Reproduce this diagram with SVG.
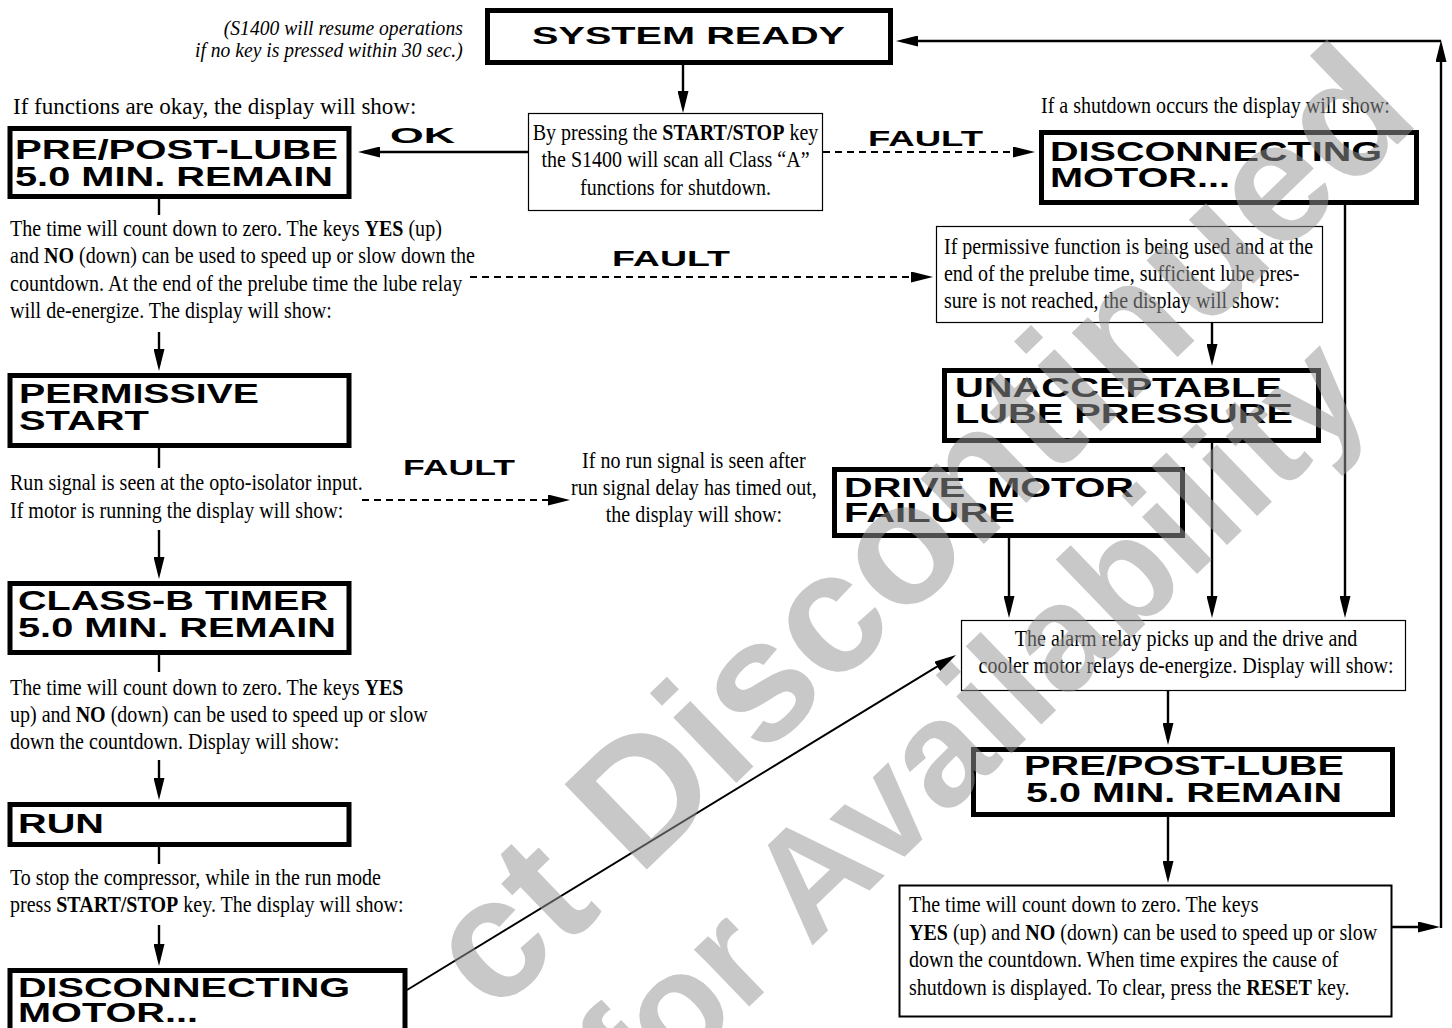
<svg xmlns="http://www.w3.org/2000/svg" width="1452" height="1028" viewBox="0 0 1452 1028">
<defs>
<style>
.thick{fill:#fff;stroke:#000;stroke-width:5}
.thin{fill:#fff;stroke:#000;stroke-width:1.2}
.d{font-family:"Liberation Sans",Arial,sans-serif;font-weight:bold;font-size:27px;fill:#000}
.b{font-family:"Liberation Serif","Times New Roman",serif;font-size:24px;fill:#000}
.i{font-family:"Liberation Serif","Times New Roman",serif;font-size:22px;font-style:italic;fill:#000}
.lbl{font-family:"Liberation Sans",Arial,sans-serif;font-weight:bold;font-size:22px;fill:#000}
.ln{fill:none;stroke:#000;stroke-width:2.4}
.dash{fill:none;stroke:#000;stroke-width:2.2;stroke-dasharray:7 5}
.wm{font-family:"Liberation Sans",Arial,sans-serif;font-weight:bold;fill:#959595;fill-opacity:.52}
.bd{font-weight:bold}
</style>
<marker id="ah" markerUnits="userSpaceOnUse" markerWidth="22" markerHeight="11" refX="16" refY="5.5" orient="auto"><path d="M0,0 L22,5.5 L0,11 Z" fill="#000"/></marker>
</defs>
<rect width="1452" height="1028" fill="#fff"/>

<g id="connectors">
<path class="ln" d="M683,63 V107" marker-end="url(#ah)"/>
<path class="ln" d="M528,152 H364" marker-end="url(#ah)"/>
<path class="dash" d="M823,152 H1029" marker-end="url(#ah)"/>
<path class="ln" d="M159,199 V215"/>
<path class="ln" d="M159,332 V365" marker-end="url(#ah)"/>
<path class="dash" d="M470,277 H927" marker-end="url(#ah)"/>
<path class="ln" d="M1212,323 V360" marker-end="url(#ah)"/>
<path class="ln" d="M159,448 V468"/>
<path class="dash" d="M362,500 H564" marker-end="url(#ah)"/>
<path class="ln" d="M159,530 V573" marker-end="url(#ah)"/>
<path class="ln" d="M159,655 V672"/>
<path class="ln" d="M159,760 V794" marker-end="url(#ah)"/>
<path class="ln" d="M159,847 V864"/>
<path class="ln" d="M159,925 V960" marker-end="url(#ah)"/>
<path class="ln" style="stroke-width:2" d="M407,990 L950.9,658.1" marker-end="url(#ah)"/>
<path class="ln" d="M1009,538 V612" marker-end="url(#ah)"/>
<path class="ln" d="M1212,443 V612" marker-end="url(#ah)"/>
<path class="ln" d="M1345,205 V612" marker-end="url(#ah)"/>
<path class="ln" d="M1168,691 V739" marker-end="url(#ah)"/>
<path class="ln" d="M1168,817 V877" marker-end="url(#ah)"/>
<path class="ln" d="M1392,927 H1434" marker-end="url(#ah)"/>
<path class="ln" d="M1441,928 V46" marker-end="url(#ah)"/>
<path class="ln" d="M1441,41 H902" marker-end="url(#ah)"/>
<text class="lbl" x="390" y="143" textLength="65" lengthAdjust="spacingAndGlyphs">OK</text>
<text class="lbl" x="868" y="146" textLength="115" lengthAdjust="spacingAndGlyphs">FAULT</text>
<text class="lbl" x="612" y="266" textLength="118" lengthAdjust="spacingAndGlyphs">FAULT</text>
<text class="lbl" x="403" y="475" textLength="112" lengthAdjust="spacingAndGlyphs">FAULT</text>
</g>

<g id="note">
<text class="i" transform="scale(.89 1)" text-anchor="end" x="520" y="35">(S1400 will resume operations</text>
<text class="i" transform="scale(.89 1)" text-anchor="end" x="520" y="57">if no key is pressed within 30 sec.)</text>
</g>

<g id="system-ready">
<rect class="thick" x="487.5" y="10.5" width="403" height="52"/>
<text class="d" style="font-size:24px" x="532" y="44" textLength="313" lengthAdjust="spacingAndGlyphs">SYSTEM READY</text>
</g>

<g id="start-stop">
<rect class="thin" x="528.5" y="113.5" width="294" height="97"/>
<g class="b" transform="scale(.835 1)" text-anchor="middle">
<text x="809" y="140">By pressing the <tspan class="bd">START/STOP</tspan> key</text>
<text x="809" y="167">the S1400 will scan all Class “A”</text>
<text x="809" y="195">functions for shutdown.</text>
</g>
</g>

<g id="okay-text">
<text class="b" transform="scale(.958 1)" x="13.6" y="114">If functions are okay, the display will show:</text>
</g>

<g id="prepost-left">
<rect class="thick" x="10" y="128.5" width="339" height="68"/>
<text class="d" x="15" y="159" textLength="323" lengthAdjust="spacingAndGlyphs">PRE/POST-LUBE</text>
<text class="d" x="15" y="186" textLength="318" lengthAdjust="spacingAndGlyphs">5.0 MIN. REMAIN</text>
</g>

<g id="shutdown-text">
<text class="b" transform="scale(.835 1)" x="1246.7" y="113">If a shutdown occurs the display will show:</text>
</g>

<g id="disconnecting-top">
<rect class="thick" x="1041.5" y="132.5" width="375" height="70"/>
<text class="d" x="1050" y="161" textLength="332" lengthAdjust="spacingAndGlyphs">DISCONNECTING</text>
<text class="d" x="1050" y="187" textLength="180" lengthAdjust="spacingAndGlyphs">MOTOR...</text>
</g>

<g id="prelube-text">
<g class="b" transform="scale(.835 1)">
<text x="12" y="236">The time will count down to zero. The keys <tspan class="bd">YES</tspan> (up)</text>
<text x="12" y="263">and <tspan class="bd">NO</tspan> (down) can be used to speed up or slow down the</text>
<text x="12" y="291">countdown. At the end of the prelube time the lube relay</text>
<text x="12" y="318">will de-energize. The display will show:</text>
</g>
</g>

<g id="permissive-text">
<rect class="thin" x="936.5" y="226.5" width="386" height="96"/>
<g class="b" transform="scale(.835 1)">
<text x="1130.5" y="254">If permissive function is being used and at the</text>
<text x="1130.5" y="281">end of the prelube time, sufficient lube pres-</text>
<text x="1130.5" y="308">sure is not reached, the display will show:</text>
</g>
</g>

<g id="permissive-start">
<rect class="thick" x="10" y="375.5" width="339" height="70"/>
<text class="d" x="19" y="403" textLength="240" lengthAdjust="spacingAndGlyphs">PERMISSIVE</text>
<text class="d" x="19" y="430" textLength="130" lengthAdjust="spacingAndGlyphs">START</text>
</g>

<g id="unacceptable">
<rect class="thick" x="944.5" y="370.5" width="374" height="70"/>
<text class="d" x="955" y="397" textLength="327" lengthAdjust="spacingAndGlyphs">UNACCEPTABLE</text>
<text class="d" x="955" y="423" textLength="338" lengthAdjust="spacingAndGlyphs">LUBE PRESSURE</text>
</g>

<g id="run-signal-text">
<g class="b" transform="scale(.835 1)">
<text x="12" y="490">Run signal is seen at the opto-isolator input.</text>
<text x="12" y="518">If motor is running the display will show:</text>
</g>
</g>

<g id="no-run-text">
<g class="b" transform="scale(.835 1)" text-anchor="middle">
<text x="831" y="468">If no run signal is seen after</text>
<text x="831" y="495">run signal delay has timed out,</text>
<text x="831" y="522">the display will show:</text>
</g>
</g>

<g id="drive-motor">
<rect class="thick" x="834.5" y="469.5" width="348" height="66"/>
<text class="d" xml:space="preserve" x="844" y="497" textLength="290" lengthAdjust="spacingAndGlyphs">DRIVE  MOTOR</text>
<text class="d" x="844" y="522" textLength="171" lengthAdjust="spacingAndGlyphs">FAILURE</text>
</g>

<g id="class-b">
<rect class="thick" x="10" y="583.5" width="339" height="69"/>
<text class="d" x="18" y="610" textLength="310" lengthAdjust="spacingAndGlyphs">CLASS-B TIMER</text>
<text class="d" x="18" y="637" textLength="318" lengthAdjust="spacingAndGlyphs">5.0 MIN. REMAIN</text>
</g>

<g id="alarm">
<rect class="thin" x="961.5" y="620.5" width="444" height="70"/>
<g class="b" transform="scale(.835 1)" text-anchor="middle">
<text x="1420.4" y="646">The alarm relay picks up and the drive and</text>
<text x="1420.4" y="673">cooler motor relays de-energize. Display will show:</text>
</g>
</g>

<g id="classb-text">
<g class="b" transform="scale(.835 1)">
<text x="12" y="695">The time will count down to zero. The keys <tspan class="bd">YES</tspan></text>
<text x="12" y="722">up) and <tspan class="bd">NO</tspan> (down) can be used to speed up or slow</text>
<text x="12" y="749">down the countdown. Display will show:</text>
</g>
</g>

<g id="prepost-right">
<rect class="thick" x="973.5" y="749.5" width="419" height="65"/>
<text class="d" text-anchor="middle" x="1184" y="775" textLength="320" lengthAdjust="spacingAndGlyphs">PRE/POST-LUBE</text>
<text class="d" text-anchor="middle" x="1184" y="802" textLength="316" lengthAdjust="spacingAndGlyphs">5.0 MIN. REMAIN</text>
</g>

<g id="run">
<rect class="thick" x="10" y="804.5" width="339" height="40"/>
<text class="d" x="18" y="833" textLength="86" lengthAdjust="spacingAndGlyphs">RUN</text>
</g>

<g id="stop-text">
<g class="b" transform="scale(.835 1)">
<text x="12" y="885">To stop the compressor, while in the run mode</text>
<text x="12" y="912">press <tspan class="bd">START/STOP</tspan> key. The display will show:</text>
</g>
</g>

<g id="final-text">
<rect class="thin" style="stroke-width:2" x="899.5" y="885.5" width="492" height="131"/>
<g class="b" transform="scale(.835 1)">
<text x="1088.6" y="912">The time will count down to zero. The keys</text>
<text x="1088.6" y="940"><tspan class="bd">YES</tspan> (up) and <tspan class="bd">NO</tspan> (down) can be used to speed up or slow</text>
<text x="1088.6" y="967">down the countdown. When time expires the cause of</text>
<text x="1088.6" y="995">shutdown is displayed. To clear, press the <tspan class="bd">RESET</tspan> key.</text>
</g>
</g>

<g id="disconnecting-bottom">
<rect class="thick" x="10" y="970.5" width="395" height="80"/>
<text class="d" x="18" y="997" textLength="332" lengthAdjust="spacingAndGlyphs">DISCONNECTING</text>
<text class="d" x="18" y="1022" textLength="180" lengthAdjust="spacingAndGlyphs">MOTOR...</text>
</g>

<g id="watermark" class="wm">
<text style="font-size:172px" transform="translate(494 1017) rotate(-44)">ct Discontinued</text>
<text style="font-size:150px" transform="translate(640 1112) rotate(-44)">for Availability</text>
</g>
</svg>
